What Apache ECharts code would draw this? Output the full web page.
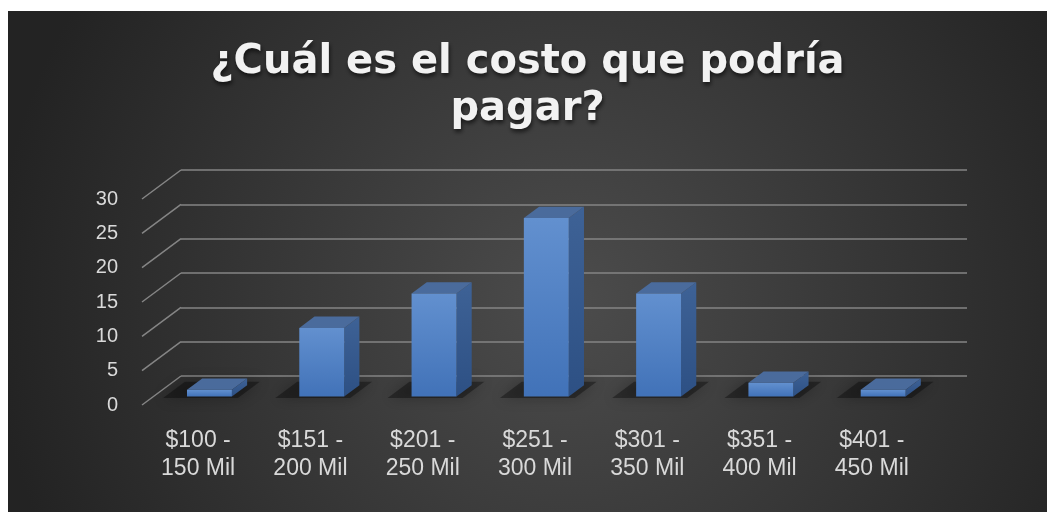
<!DOCTYPE html>
<html>
<head>
<meta charset="utf-8">
<script src="https://cdn.jsdelivr.net/npm/echarts@6/dist/echarts.min.js"></script>
<style>
html, body { margin: 0; padding: 0; background: #fff; }
#chart { position: absolute; left: 8px; top: 11px; width: 1039px; height: 501px; }
</style>
</head>
<body>
<div id="chart"></div>
<script>
var categories = ['$100 -\n150 Mil', '$151 -\n200 Mil', '$201 -\n250 Mil', '$251 -\n300 Mil',
                  '$301 -\n350 Mil', '$351 -\n400 Mil', '$401 -\n450 Mil'];
var values = [1, 10, 15, 26, 15, 2, 1];
var yTicks = [0, 5, 10, 15, 20, 25, 30];

var DEPTH = [39, -29];      // front plane -> back wall offset (px)
var BAR_FRONT = 0.29;       // where the bar front face sits in the depth
var BAR_BACK = 0.68;

function lerp(p, t) {
    return [p[0] + DEPTH[0] * t, p[1] + DEPTH[1] * t];
}

// 3d column: floor shadow, front face, side, top
function renderBar(params, api) {
    var i = api.value(0), v = api.value(1);
    var base = api.coord([i, 0]);
    var top = api.coord([i, v]);
    var w = api.size([1, 0])[0] * 0.4;
    var b0 = lerp([base[0] - w / 2, base[1]], BAR_FRONT);
    var b1 = lerp([base[0] + w / 2, base[1]], BAR_FRONT);
    var t0 = lerp([base[0] - w / 2, top[1]], BAR_FRONT);
    var t1 = lerp([base[0] + w / 2, top[1]], BAR_FRONT);
    var d = BAR_BACK - BAR_FRONT;
    var dx = DEPTH[0] * d, dy = DEPTH[1] * d;

    var s0 = lerp([base[0] - w / 2 - 22, base[1]], BAR_FRONT - 0.05);
    var s1 = lerp([base[0] + w / 2 + 8, base[1]], BAR_FRONT - 0.05);
    var s2 = lerp([base[0] + w / 2 + 8, base[1]], BAR_BACK + 0.12);
    var s3 = lerp([base[0] - w / 2 - 22, base[1]], BAR_BACK + 0.12);

    return {
        type: 'group',
        children: [
            {
                type: 'polygon',
                shape: { points: [s0, s1, s2, s3] },
                style: { fill: 'rgba(0,0,0,0.35)', shadowBlur: 14, shadowColor: 'rgba(0,0,0,0.75)' }
            },
            {
                type: 'polygon',
                shape: { points: [b1, t1, [t1[0] + dx, t1[1] + dy], [b1[0] + dx, b1[1] + dy]] },
                style: {
                    fill: new echarts.graphic.LinearGradient(0, 0, 0, 1, [
                        { offset: 0, color: '#3e6296' },
                        { offset: 1, color: '#2d5084' }
                    ])
                }
            },
            {
                type: 'polygon',
                shape: { points: [t0, t1, [t1[0] + dx, t1[1] + dy], [t0[0] + dx, t0[1] + dy]] },
                style: { fill: '#4a6b9c' }
            },
            {
                type: 'polygon',
                shape: { points: [b0, b1, t1, t0] },
                style: {
                    fill: new echarts.graphic.LinearGradient(0, 0, 0, 1, [
                        { offset: 0, color: '#6290cf' },
                        { offset: 1, color: '#4172b8' }
                    ])
                }
            }
        ]
    };
}

// side wall lines from the front edge to the back wall
function renderSideLine(params, api) {
    var v = api.value(1);
    var p = api.coord([0, v]);
    var x = params.coordSys.x;
    return {
        type: 'line',
        shape: { x1: x, y1: p[1], x2: x + DEPTH[0], y2: p[1] + DEPTH[1] },
        style: { stroke: '#858585', lineWidth: 1.5 }
    };
}

var chart = echarts.init(document.getElementById('chart'));
chart.setOption({
    backgroundColor: {
        type: 'radial', x: 0.54, y: 0.58, r: 1.15,
        colorStops: [
            { offset: 0, color: '#4c4c4c' },
            { offset: 1, color: '#232323' }
        ]
    },
    title: {
        text: '¿Cuál es el costo que podría\npagar?',
        left: 'center',
        top: 23,
        textStyle: {
            fontFamily: 'DejaVu Sans',
            fontWeight: 'bold',
            fontSize: 40,
            lineHeight: 47,
            color: '#f2f2f2',
            textShadowColor: 'rgba(0,0,0,0.6)',
            textShadowBlur: 4,
            textShadowOffsetX: 1,
            textShadowOffsetY: 3
        }
    },
    grid: [
        { left: 173, top: 159, width: 786, height: 206 },   // back wall
        { left: 134, top: 188, width: 786, height: 206 }    // front plane
    ],
    xAxis: [
        { type: 'category', gridIndex: 0, data: categories, show: false },
        {
            type: 'category', gridIndex: 1, data: categories,
            axisLine: { show: false }, axisTick: { show: false },
            axisLabel: {
                color: '#d9d9d9', fontFamily: 'Liberation Sans', fontSize: 23,
                lineHeight: 28, margin: 22, interval: 0
            }
        }
    ],
    yAxis: [
        {
            type: 'value', gridIndex: 0, min: 0, max: 30, interval: 5,
            axisLabel: { show: false },
            splitLine: { lineStyle: { color: '#858585', width: 1.5 } }
        },
        {
            type: 'value', gridIndex: 1, min: 0, max: 30, interval: 5,
            splitLine: { show: false },
            axisLabel: { color: '#d9d9d9', fontFamily: 'Liberation Sans', fontSize: 20, margin: 24 }
        }
    ],
    series: [
        {
            type: 'custom',
            xAxisIndex: 1, yAxisIndex: 1,
            renderItem: renderSideLine,
            data: yTicks.map(function (v) { return [0, v]; }),
            clip: false,
            silent: true
        },
        {
            type: 'custom',
            name: 'Serie 1',
            xAxisIndex: 1, yAxisIndex: 1,
            renderItem: renderBar,
            encode: { x: 0, y: 1 },
            data: values.map(function (v, i) { return [i, v]; }),
            clip: false
        }
    ]
});
</script>
</body>
</html>
